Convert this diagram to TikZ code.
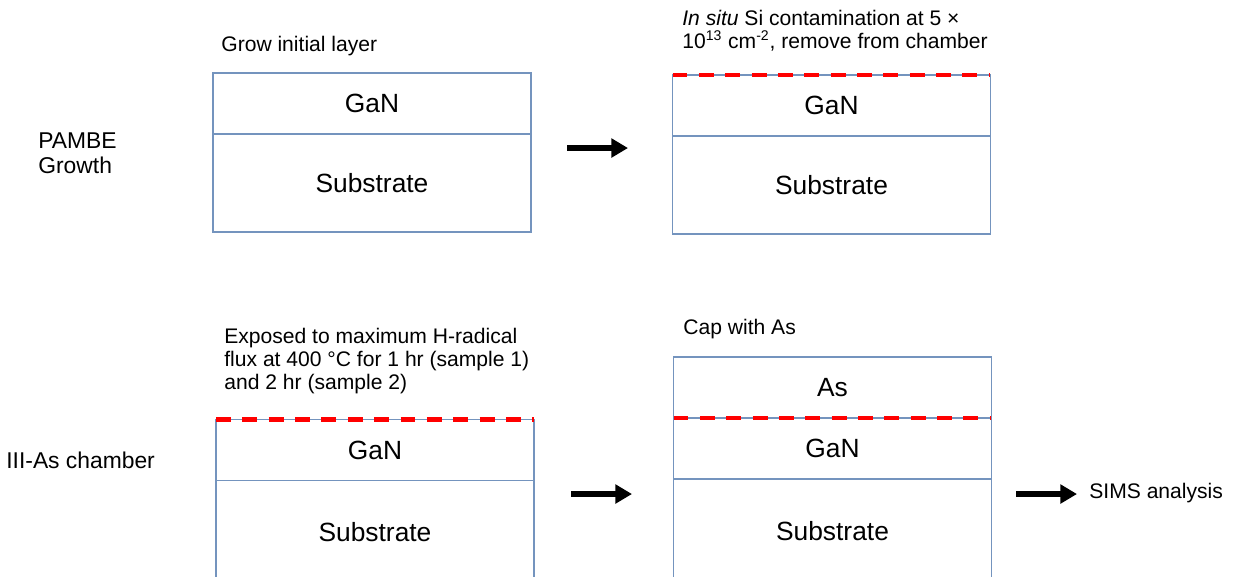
\documentclass[tikz,border=0pt]{standalone}
\usepackage{fontspec}
\setmainfont{Liberation Sans}
\usetikzlibrary{positioning,arrows.meta}

\definecolor{boxblue}{RGB}{116,148,190}
\definecolor{sired}{RGB}{255,0,0}

\begin{document}
\begin{tikzpicture}[x=0.02cm,y=-0.02cm,
    layer/.style={draw=boxblue, line width=0.65pt, outer sep=0pt, inner sep=0pt,
                  minimum width=6.36cm, font=\fontsize{15}{18}\selectfont},
    film/.style={layer, minimum height=1.22cm},
    sub/.style={layer, minimum height=1.96cm},
    note/.style={font=\fontsize{12}{12.9}\selectfont, align=left, inner sep=0pt},
    side/.style={font=\fontsize{13}{14.3}\selectfont, align=left, inner sep=0pt},
    siline/.style={draw=sired, line width=2.3pt, dash pattern=on 8.5pt off 6.5pt},
    flow/.style={line width=3.4pt, -{Triangle[length=9.5pt,width=10.5pt]}}]

\clip (0,0) rectangle (1233,576);

% Etapa 1: crescimento PAMBE
\node[side, anchor=west] (pambe) at (38,153) {PAMBE\\Growth};
\node[note, anchor=west] (grow) at (221,46) {Grow initial layer};
\node[film] (gan1) at (372,103.5) {GaN};
\node[sub, below=0pt of gan1] (sub1) {Substrate};

% Etapa 2: contaminação com Si
\node[note, anchor=west] (insitu) at (682,31)
    {\textit{In situ} Si contamination at 5 ×\\10\textsuperscript{13} cm\textsuperscript{-2}, remove from chamber};
\node[film] (gan2) at (831.5,105.5) {GaN};
\node[sub, below=0pt of gan2] (sub2) {Substrate};
\draw[siline] (gan2.north west) -- (gan2.north east);

% Etapa 3: exposição ao H
\node[side, anchor=west] (iiias) at (6,460) {III-As chamber};
\node[note, anchor=west] (expose) at (224,361)
    {Exposed to maximum H-radical\\flux at 400 °C for 1 hr (sample 1)\\and 2 hr (sample 2)};
\node[film] (gan3) at (375,450) {GaN};
\node[sub, below=0pt of gan3, minimum height=2.08cm] (sub3) {Substrate};
\draw[siline] (gan3.north west) -- (gan3.north east);

% Etapa 4: cobertura com As
\node[note, anchor=west] (cap) at (683,329) {Cap with As};
\node[film] (as4) at (832.5,387.5) {As};
\node[film, below=0pt of as4] (gan4) {GaN};
\node[sub, below=0pt of gan4, minimum height=2.08cm] (sub4) {Substrate};
\draw[siline] (gan4.north west) -- (gan4.north east);

% Setas
\coordinate (f1a) at (567,148);
\coordinate (f1b) at (628,148);
\coordinate (f2a) at (571,494);
\coordinate (f2b) at (632,494);
\coordinate (f3a) at (1016,494);
\coordinate (f3b) at (1077,494);
\draw[flow] (f1a) -- (f1b);
\draw[flow] (f2a) -- (f2b);
\draw[flow] (f3a) -- (f3b);
\node[note, anchor=west] (sims) at (1089,493) {SIMS analysis};

\end{tikzpicture}
\end{document}
